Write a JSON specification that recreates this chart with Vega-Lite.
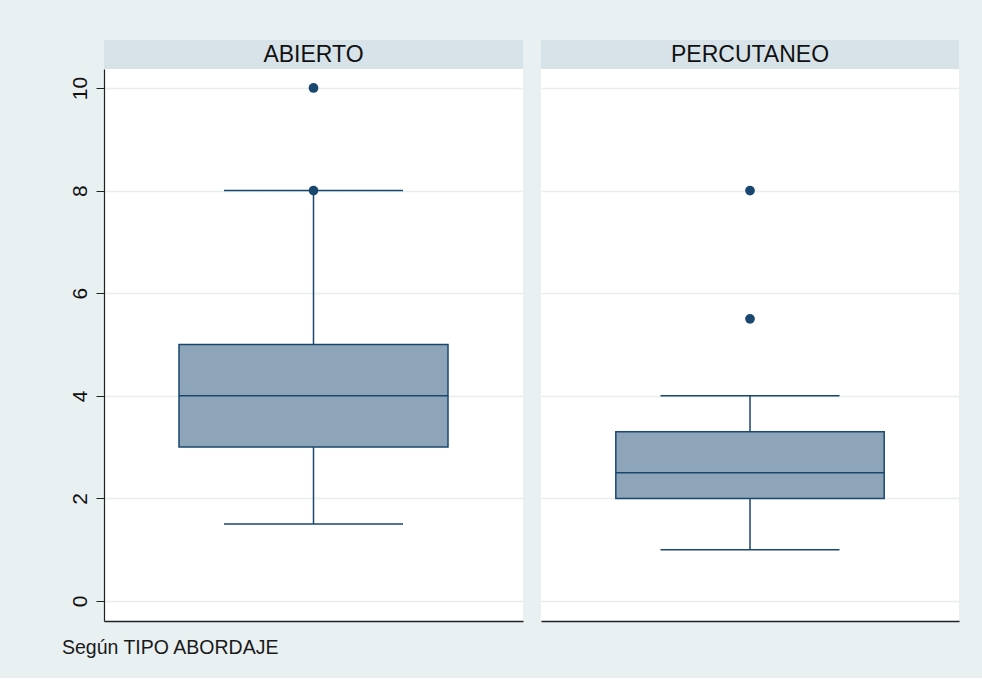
{
  "$schema": "https://vega.github.io/schema/vega-lite/v6.json",
  "background": "#e9f0f2",
  "padding": {"left": 62, "top": 40, "right": 23, "bottom": 20},
  "datasets": {
    "cajas": [
      {"tipo": "ABIERTO", "minimo": 1.5, "q1": 3, "mediana": 4, "q3": 5, "maximo": 8},
      {"tipo": "PERCUTANEO", "minimo": 1, "q1": 2, "mediana": 2.5, "q3": 3.3, "maximo": 4}
    ],
    "atipicos": [
      {"tipo": "ABIERTO", "valor": 8},
      {"tipo": "ABIERTO", "valor": 10},
      {"tipo": "PERCUTANEO", "valor": 5.5},
      {"tipo": "PERCUTANEO", "valor": 8}
    ]
  },
  "title": {
    "text": "Según TIPO ABORDAJE",
    "orient": "bottom",
    "anchor": "start",
    "frame": "bounds",
    "dx": -7,
    "fontSize": 19.5,
    "font": "Liberation Sans",
    "fontWeight": "normal",
    "color": "#1a1a1a",
    "offset": 18
  },
  "columns": 2,
  "spacing": {"row": 0, "column": 18},
  "bounds": "flush",
  "concat": [
    {
      "width": 419,
      "height": 29,
      "view": {"fill": "#d8e3e9", "stroke": null},
      "data": {"values": [{"tipo": "ABIERTO"}]},
      "mark": {"type": "text", "fontSize": 23, "font": "Liberation Sans", "color": "#111111"},
      "encoding": {"text": {"field": "tipo"}}
    },
    {
      "width": 418,
      "height": 29,
      "view": {"fill": "#d8e3e9", "stroke": null},
      "data": {"values": [{"tipo": "PERCUTANEO"}]},
      "mark": {"type": "text", "fontSize": 23, "font": "Liberation Sans", "color": "#111111"},
      "encoding": {"text": {"field": "tipo"}}
    },
    {
      "width": 419,
      "height": 552,
      "view": {"fill": "white", "stroke": null},
      "layer": [
        {
          "data": {"name": "cajas"},
          "transform": [{"filter": "datum.tipo === 'ABIERTO'"}],
          "layer": [
            {
              "mark": {"type": "rule", "color": "#1a476f", "strokeWidth": 1.5},
              "encoding": {
                "x": {"field": "tipo", "type": "nominal", "scale": {"paddingInner": 0, "paddingOuter": 0.2788}, "axis": {"title": null}},
                "y": {"field": "minimo", "type": "quantitative", "scale": {"domain": [-0.39, 10.37], "nice": false, "zero": false}, "axis": {"title": null}},
                "y2": {"field": "q1"}
              }
            },
            {
              "mark": {"type": "rule", "color": "#1a476f", "strokeWidth": 1.5},
              "encoding": {
                "x": {"field": "tipo", "type": "nominal", "axis": {"title": null}},
                "y": {"field": "q3", "type": "quantitative", "axis": {"title": null}},
                "y2": {"field": "maximo"}
              }
            },
            {
              "mark": {"type": "tick", "orient": "horizontal", "size": 179, "thickness": 1.5, "color": "#1a476f", "opacity": 1},
              "encoding": {
                "x": {"field": "tipo", "type": "nominal", "axis": {"title": null}},
                "y": {"field": "minimo", "type": "quantitative", "axis": {"title": null}}
              }
            },
            {
              "mark": {"type": "tick", "orient": "horizontal", "size": 179, "thickness": 1.5, "color": "#1a476f", "opacity": 1},
              "encoding": {
                "x": {"field": "tipo", "type": "nominal", "axis": {"title": null}},
                "y": {"field": "maximo", "type": "quantitative", "axis": {"title": null}}
              }
            },
            {
              "mark": {"type": "bar", "fill": "#8ea4b8", "stroke": "#1a476f", "strokeWidth": 1.5, "opacity": 1},
              "encoding": {
                "x": {"field": "tipo", "type": "nominal", "axis": {"title": null, "labels": false, "ticks": false, "domain": true, "domainColor": "#222222", "domainWidth": 1.5, "grid": false}},
                "y": {"field": "q1", "type": "quantitative", "axis": {"title": null, "values": [0, 2, 4, 6, 8, 10], "labelAngle": 270, "labelFontSize": 21, "labelFont": "Liberation Sans", "labelColor": "#111111", "tickSize": 8, "tickColor": "#222222", "domainColor": "#222222", "domainWidth": 1.2, "labelPadding": 6, "grid": true, "gridColor": "#e6eef0", "gridWidth": 1.5}},
                "y2": {"field": "q3"}
              }
            },
            {
              "mark": {"type": "tick", "orient": "horizontal", "size": 269, "thickness": 1.5, "color": "#1a476f", "opacity": 1},
              "encoding": {
                "x": {"field": "tipo", "type": "nominal", "axis": {"title": null}},
                "y": {"field": "mediana", "type": "quantitative", "axis": {"title": null}}
              }
            }
          ]
        },
        {
          "data": {"name": "atipicos"},
          "transform": [{"filter": "datum.tipo === 'ABIERTO'"}],
          "mark": {"type": "point", "filled": true, "size": 95, "color": "#1a476f", "opacity": 1},
          "encoding": {
            "x": {"field": "tipo", "type": "nominal", "axis": {"title": null}},
            "y": {"field": "valor", "type": "quantitative", "axis": {"title": null}}
          }
        }
      ]
    },
    {
      "width": 418,
      "height": 552,
      "view": {"fill": "white", "stroke": null},
      "layer": [
        {
          "data": {"name": "cajas"},
          "transform": [{"filter": "datum.tipo === 'PERCUTANEO'"}],
          "layer": [
            {
              "mark": {"type": "rule", "color": "#1a476f", "strokeWidth": 1.5},
              "encoding": {
                "x": {"field": "tipo", "type": "nominal", "scale": {"paddingInner": 0, "paddingOuter": 0.2788}, "axis": {"title": null}},
                "y": {"field": "minimo", "type": "quantitative", "scale": {"domain": [-0.39, 10.37], "nice": false, "zero": false}, "axis": {"title": null}},
                "y2": {"field": "q1"}
              }
            },
            {
              "mark": {"type": "rule", "color": "#1a476f", "strokeWidth": 1.5},
              "encoding": {
                "x": {"field": "tipo", "type": "nominal", "axis": {"title": null}},
                "y": {"field": "q3", "type": "quantitative", "axis": {"title": null}},
                "y2": {"field": "maximo"}
              }
            },
            {
              "mark": {"type": "tick", "orient": "horizontal", "size": 179, "thickness": 1.5, "color": "#1a476f", "opacity": 1},
              "encoding": {
                "x": {"field": "tipo", "type": "nominal", "axis": {"title": null}},
                "y": {"field": "minimo", "type": "quantitative", "axis": {"title": null}}
              }
            },
            {
              "mark": {"type": "tick", "orient": "horizontal", "size": 179, "thickness": 1.5, "color": "#1a476f", "opacity": 1},
              "encoding": {
                "x": {"field": "tipo", "type": "nominal", "axis": {"title": null}},
                "y": {"field": "maximo", "type": "quantitative", "axis": {"title": null}}
              }
            },
            {
              "mark": {"type": "bar", "fill": "#8ea4b8", "stroke": "#1a476f", "strokeWidth": 1.5, "opacity": 1},
              "encoding": {
                "x": {"field": "tipo", "type": "nominal", "axis": {"title": null, "labels": false, "ticks": false, "domain": true, "domainColor": "#222222", "domainWidth": 1.5, "grid": false}},
                "y": {"field": "q1", "type": "quantitative", "axis": {"title": null, "values": [0, 2, 4, 6, 8, 10], "labels": false, "ticks": false, "domain": false, "grid": true, "gridColor": "#e6eef0", "gridWidth": 1.5}},
                "y2": {"field": "q3"}
              }
            },
            {
              "mark": {"type": "tick", "orient": "horizontal", "size": 269, "thickness": 1.5, "color": "#1a476f", "opacity": 1},
              "encoding": {
                "x": {"field": "tipo", "type": "nominal", "axis": {"title": null}},
                "y": {"field": "mediana", "type": "quantitative", "axis": {"title": null}}
              }
            }
          ]
        },
        {
          "data": {"name": "atipicos"},
          "transform": [{"filter": "datum.tipo === 'PERCUTANEO'"}],
          "mark": {"type": "point", "filled": true, "size": 95, "color": "#1a476f", "opacity": 1},
          "encoding": {
            "x": {"field": "tipo", "type": "nominal", "axis": {"title": null}},
            "y": {"field": "valor", "type": "quantitative", "axis": {"title": null}}
          }
        }
      ]
    }
  ]
}
